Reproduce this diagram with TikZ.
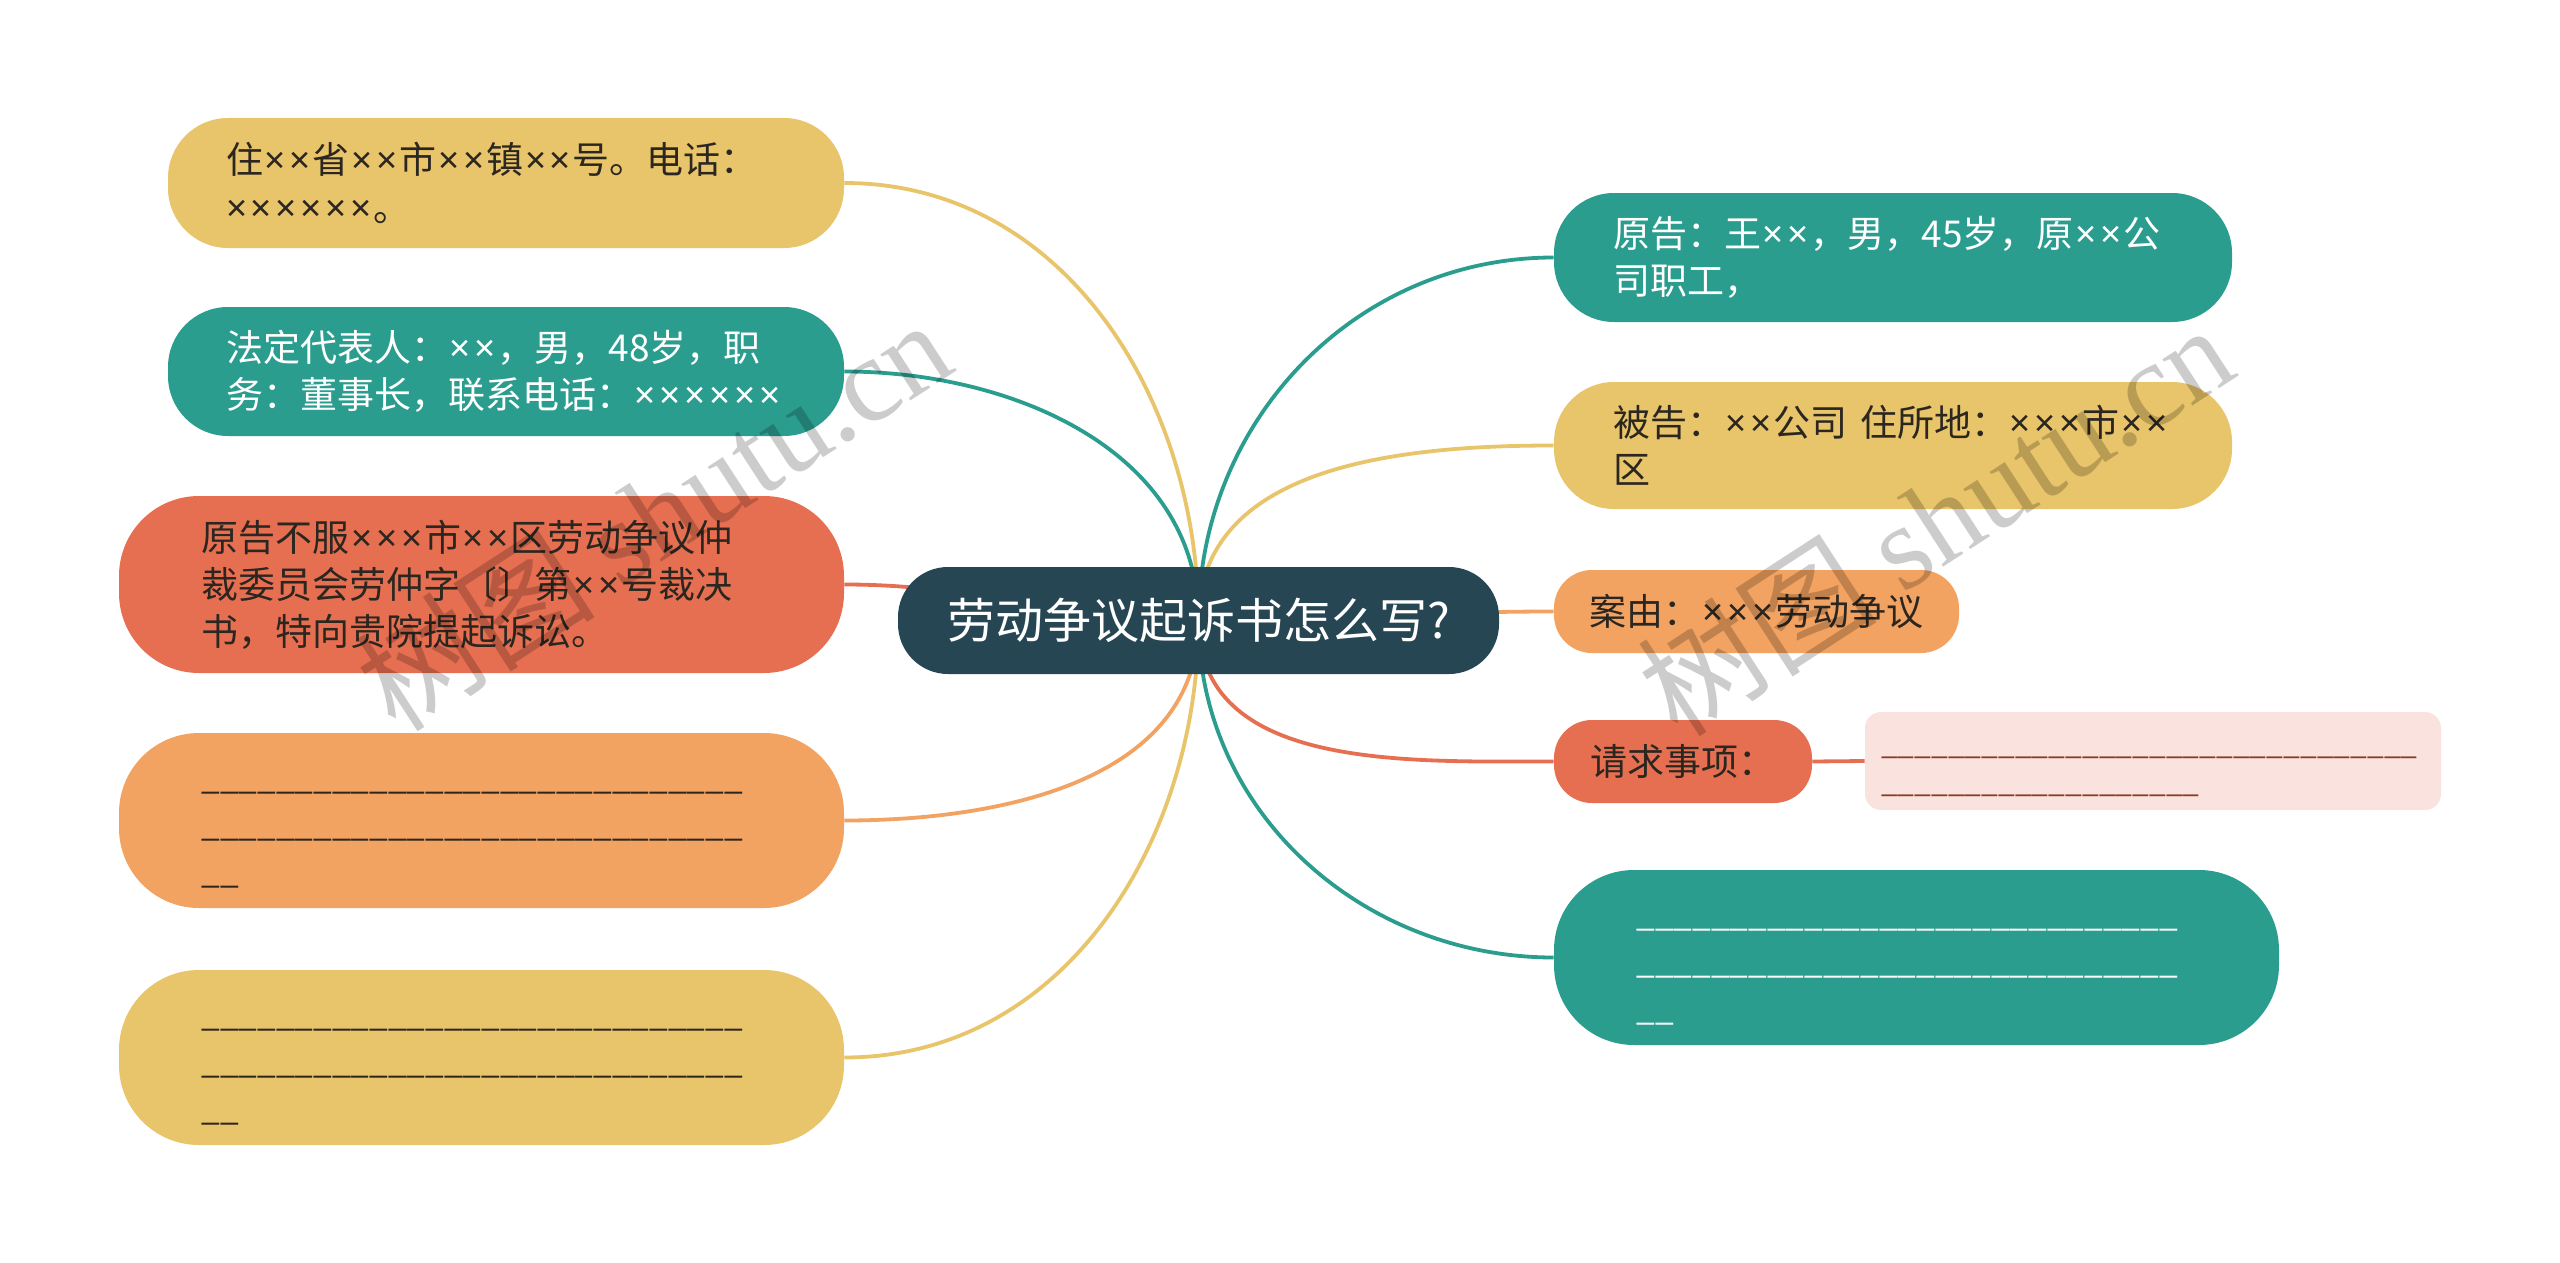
\documentclass[tikz,border=0pt]{standalone}
\usepackage{fontspec}
\setmainfont{Noto Sans CJK SC}
\newfontfamily\wmlatin{Liberation Serif}
\newfontfamily\latinf{Noto Sans}
\newcommand\tm{\kern0.05em{\latinf ×}\kern0.05em}
\definecolor{cyel}{HTML}{E8C46A}
\definecolor{cteal}{HTML}{2A9D8F}
\definecolor{cred}{HTML}{E76F51}
\definecolor{corg}{HTML}{F2A261}
\definecolor{croot}{HTML}{264653}
\definecolor{cpink}{HTML}{FAE3DE}
\definecolor{ctxt}{HTML}{2B2620}
\definecolor{cpinktxt}{HTML}{8A3A28}
\pgfdeclarelayer{bg}
\pgfsetlayers{bg,main}
\newcommand\usc[1]{\foreach\i in {1,...,#1}{\_}}
\newcommand\blanks{\fontsize{16.7}{23.5}\selectfont\rule{0pt}{18pt}\usc{29}\\\usc{29}\\\usc{2}}
\tikzset{
  box/.style={inner sep=0pt, rounded corners=#1, align=left, text width=280pt,
    font=\fontsize{18.5}{23.5}\selectfont},
  small/.style={inner sep=0pt, rounded corners=#1, align=center,
    font=\fontsize{18.5}{23.5}\selectfont},
  conn/.style={line width=1.9pt},
  wm/.style={rotate=33, text=black, opacity=0.2, font=\fontsize{60}{60}\selectfont}
}
\begin{document}
\begin{tikzpicture}[x=0.5pt,y=-0.5pt]
\useasboundingbox (0,0) rectangle (2560,1263);
% root
\node[fill=croot, text=white, rounded corners=25pt, inner sep=0pt,
  minimum width=300.5pt, minimum height=53.5pt,
  font=\fontsize{24}{28}\selectfont] (root) at (1198.5,620.5) {劳动争议起诉书怎么写?};
% left
\node[box=30pt, fill=cyel, text=ctxt, minimum width=338pt, minimum height=65pt]
  (L1) at (506,183) {住\tm\tm 省\tm\tm 市\tm\tm 镇\tm\tm 号。电话：\\\tm\tm\tm\tm\tm\tm 。};
\node[box=30pt, fill=cteal, text=white, minimum width=338pt, minimum height=64.5pt]
  (L2) at (506,371.5) {法定代表人：\tm\tm ，男，48岁，职\\务：董事长，联系电话：\tm\tm\tm\tm\tm\tm};
\node[box=40pt, fill=cred, text=ctxt, minimum width=362.5pt, minimum height=88.5pt]
  (L3) at (481.5,584.5) {原告不服\tm\tm\tm 市\tm\tm 区劳动争议仲\\裁委员会劳仲字〔〕第\tm\tm 号裁决\\书，特向贵院提起诉讼。};
\node[box=40pt, fill=corg, text=ctxt, minimum width=362.5pt, minimum height=87.5pt]
  (L4) at (481.5,820.5) {\blanks};
\node[box=40pt, fill=cyel, text=ctxt, minimum width=362.5pt, minimum height=87.5pt]
  (L5) at (481.5,1057.5) {\blanks};
% right
\node[box=30pt, fill=cteal, text=white, minimum width=339pt, minimum height=64.5pt]
  (R1) at (1893,257.5) {原告：王\tm\tm ，男，45岁，原\tm\tm 公\\司职工，};
\node[box=30pt, fill=cyel, text=ctxt, minimum width=339pt, minimum height=63.5pt]
  (R2) at (1893,445.5) {被告：\tm\tm 公司~住所地：\tm\tm\tm 市\tm\tm\\区};
\node[small=19pt, fill=corg, text=ctxt, minimum width=202.5pt, minimum height=41.5pt]
  (R3) at (1756.5,611.5) {案由：\tm\tm\tm 劳动争议};
\node[small=19pt, fill=cred, text=ctxt, minimum width=129pt, minimum height=41.5pt]
  (R4) at (1683,761.5) {请求事项：};
\node[fill=cpink, rounded corners=8pt, inner sep=0pt, minimum width=288pt,
  minimum height=49pt, text width=272pt, align=left, text=cpinktxt,
  font=\fontsize{15}{19}\selectfont] (P) at (2153,761) {\rule{0pt}{15pt}\usc{32}\\\usc{19}};
\node[box=40pt, fill=cteal, text=white, minimum width=362.5pt, minimum height=87.5pt]
  (R5) at (1916.5,957.5) {\blanks};
% connectors
\begin{pgfonlayer}{bg}
\draw[conn, cyel]  (root.center) to[out=90,in=0]   (L1.east);
\draw[conn, cteal] (root.center) to[out=90,in=0]   (L2.east);
\draw[conn, cred]  (root.center) to[out=180,in=0]  (L3.east);
\draw[conn, corg]  (root.center) to[out=-90,in=0]  (L4.east);
\draw[conn, cyel]  (root.center) to[out=-90,in=0]  (L5.east);
\draw[conn, cteal] (root.center) to[out=90,in=180] (R1.west);
\draw[conn, cyel]  (root.center) to[out=90,in=180] (R2.west);
\draw[conn, corg]  (root.center) to[out=0,in=180]  (R3.west);
\draw[conn, cred]  (root.center) to[out=-90,in=180] (R4.west);
\draw[conn, cteal] (root.center) to[out=-90,in=180] (R5.west);
\draw[conn, cred]  (R4.east) -- (P.west);
\end{pgfonlayer}
% watermarks
\node[wm] (wm1) at (653,514) {树图 {\wmlatin shutu.cn}};
\node[wm] (wm2) at (1935,519) {树图 {\wmlatin shutu.cn}};
\end{tikzpicture}
\end{document}
